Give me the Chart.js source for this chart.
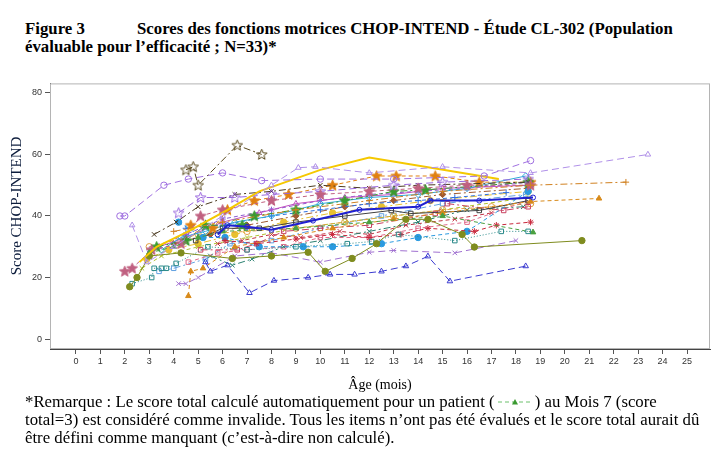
<!DOCTYPE html>
<html>
<head>
<meta charset="utf-8">
<script src="https://cdn.jsdelivr.net/npm/chart.js@4.4.1/dist/chart.umd.min.js"></script>
<style>
  html, body { margin: 0; padding: 0; background: #fff; }
  #page { position: relative; width: 720px; height: 451px; overflow: hidden;
          font-family: "Liberation Serif", "Times New Roman", serif; color: #000; }
  #title { position: absolute; left: 25px; top: 20px; font-weight: bold; font-size: 16.8px; line-height: 18px; white-space: nowrap; }
  #title .fig { display: inline-block; width: 112px; }
  #box { position: absolute; left: 0; top: 75px; width: 720px; height: 320px; }
  #note { position: absolute; left: 25px; top: 393px; font-size: 16.8px; line-height: 18px; white-space: nowrap; }
  #note svg { vertical-align: 0px; }
</style>
</head>
<body>
<div id="page">
  <div id="title"><span class="fig">Figure 3</span>Scores des fonctions motrices CHOP-INTEND - Étude CL-302 (Population<br>évaluable pour l’efficacité ; N=33)*</div>
  <div id="box"><canvas id="chartChop"></canvas></div>
  <div id="note">*Remarque : Le score total calculé automatiquement pour un patient (<svg width="40" height="10"><line x1="3" y1="5" x2="37" y2="5" stroke="#6cc06c" stroke-width="1" stroke-dasharray="4,3"/><polygon points="20,2 23,7.5 17,7.5" fill="#3a9a30"/></svg>) au Mois 7 (score<br>total=3) est considéré comme invalide. Tous les items n’ont pas été évalués et le score total aurait dû<br>être défini comme manquant (c’est-à-dire non calculé).</div>
</div>
<script>
// tick labels
const xTicks = [0,1,2,3,4,5,6,7,8,9,10,11,12,13,14,15,16,17,18,19,20,21,22,23,24,25];
const yTicks = [0,20,40,60,80];

// one list of [age (mois), score] per patient
const p01 = [[4.5,55],[4.8,56],[5.0,50],[6.6,63],[7.6,60]];
const p02 = [[1.8,40],[2.0,40],[3.6,50],[4.6,52],[6.0,54],[7.6,51.5],[10,52],[13,52],[16.7,53],[18.6,58]];
const p03 = [[2.3,37],[2.9,25],[4,30],[6,40],[8,50],[9.1,55.7],[9.8,56],[12,54],[15,56],[18.6,54],[23.4,60]];
const p04 = [[2.6,25],[3.3,30],[4.6,35],[6.2,42],[7.5,48],[10,55],[12,59],[17.3,52]];
const p05 = [[5.8,34],[6.2,37],[7,36.5],[8,35.5],[9.7,38.5],[11.6,42],[14,43],[14.5,45],[16.5,45],[18.7,46]];
const p06 = [[5.3,25],[5.5,22],[6.2,24],[7.1,15],[8.1,19],[9.5,20],[10.4,21],[11.4,21],[12.5,22],[13.5,23.7],[14.4,26.9],[15.3,18.8],[18.4,23.7]];
const p07 = [[2.2,17],[2.5,20],[3,27],[4.3,28],[6.4,26.2],[8,27],[9.5,28.2],[10.2,22],[11.3,26.2],[12.3,31],[13.5,38.9],[14.4,38.9],[15.8,34],[16.3,29.9],[20.7,32]];
const p08 = [[2.3,18],[3.1,20],[3.2,23],[3.5,23],[3.7,23],[4.1,24.6],[5.4,30],[7,29],[9,30],[11.1,31],[12.1,31.7],[13.2,34],[15.5,32],[17.4,35],[18.5,35]];
const p09 = [[3,28],[4,30],[5,33],[6,35],[9,36],[12,38],[15,40],[18.7,34.7]];
const p10 = [[4.6,14],[4.7,22],[5.2,23],[6.5,30],[8.5,33],[10.5,36],[13,39],[15,41],[18.6,44.7],[21.4,45.7]];
const p11 = [[4,35],[6,38],[9,42],[12,45],[15,48],[18.6,50],[22.5,51]];
const p12 = [[6.1,32],[7.4,31],[9,32.5],[10.5,34],[12,33],[13.3,34],[14.4,36],[16.3,35],[17.2,37],[18.6,38]];
const p13 = [[2.0,22],[2.3,23],[3.1,29],[4.3,31],[5.1,40],[6,42],[8,45],[10,47],[12,48],[14,49],[16,50],[18.6,50]];
const p14 = [[4.2,41],[5.1,46],[6.5,46],[8,47],[10,48],[13,50],[15,51],[18.5,52]];
const p15 = [[3.2,34],[4.1,38],[5,43],[6.5,47],[8,48],[10,50],[12,49],[14,50],[18.5,51]];
const p16 = [[4.2,38],[5.2,33],[6.1,33],[7.5,30],[9.3,30],[10.5,30],[12.5,31],[14,33],[16,35],[18.5,48]];
const p17 = [[3.3,30],[4.5,32],[5.3,37],[6.8,37],[7.3,40],[9,42],[11,45],[13,48],[14.3,48.5],[18.5,51]];
const p18 = [[4.7,37],[5.6,36],[6.2,42],[7.3,45],[8.7,47],[10.5,50],[12.3,53],[13.1,53],[14.7,53],[16.5,51],[18.6,51]];
const p19 = [[4.9,32],[6,36],[7.5,36],[9,38],[11,40],[12.9,41.8],[13.7,40.8],[16.5,41.8],[18.5,45]];
const p20 = [[5.1,29],[6.6,29],[7.4,31],[8.5,35],[10,36],[12,37],[14.7,40.8],[15.2,44],[17.5,41.8],[18.5,43]];
const p21 = [[4.6,25],[5.8,28],[7,29],[8.5,30],[10,33],[12,33],[14,36],[16,38],[18.5,45]];
const p22 = [[4.2,18],[4.5,18],[5,20],[6.5,27],[8,28],[10,25],[12,28.2],[13,28.8],[15.5,28],[18,32]];
const p23 = [[5.5,27],[6.4,24],[7.2,26],[8.5,30],[10,32],[12,35],[14,38],[16,42],[18.3,43]];
const p24 = [[3.5,29],[4.3,33],[5.3,35],[6.5,38],[8,40],[10,44],[12,46],[14,47],[16,49],[18.4,53]];
const p25 = [[4.5,36],[6,37],[8,40],[10,42],[12,44],[14,45],[15.5,46],[17.6,47.6]];
const p26 = [[3,30],[5,34],[7,35],[9,36],[11,38],[13,40],[15,42],[17,43],[18.6,44]];
const p27 = [[3.4,30],[4.5,33],[6,38],[7.5,41],[9,44],[11,46],[13,47],[15,49],[18.6,50]];
const p28 = [[3,29],[4.5,34],[6,39],[8,42],[10,45],[12,47],[14,48],[16,49],[18.6,51]];
const p29 = [[2.7,23],[3.5,27],[5,30],[7,33],[9,36],[11,38],[13,40],[15,42],[18.5,46]];
const p30 = [[4,31],[5.5,34],[7,37],[9,40],[11,43],[13,45],[15,47],[18.5,49]];
const p31 = [[5.8,31],[6.8,32],[8,34],[9.2,33],[10.8,35],[12,34],[13.5,37],[15.5,39],[17,41]];
const p32 = [[3.4,22],[4,23],[5.3,26],[6.3,31],[8,32],[10,36],[12.5,40],[15,44],[18.4,47]];
const p33 = [[2.9,26],[3.8,29],[5,31],[6.5,34],[8.5,38],[10.5,41],[12.5,43],[14.5,45],[18.5,48]];

const patients = [p01,p02,p03,p04,p05,p06,p07,p08,p09,p10,p11,p12,p13,p14,p15,p16,p17,
                  p18,p19,p20,p21,p22,p23,p24,p25,p26,p27,p28,p29,p30,p31,p32,p33];

// line / marker styles
const LD = [7,4], DA = [4,3], DD = [7,3,2,3], DOT = [1,2], SOL = [];
const looks = [
  { c: '#5a4a1e', m: 'star5', f: false, d: DD },
  { c: '#a070e0', m: 'circle', f: false, d: LD },
  { c: '#b090e8', m: 'triangle', f: false, d: LD },
  { c: '#f5c800', m: 'none', f: true, d: SOL, w: 2 },
  { c: '#2020d0', m: 'circle', f: false, d: SOL, w: 2, r: 2.5 },
  { c: '#3a3ad0', m: 'triangle', f: false, d: LD },
  { c: '#7f8c1f', m: 'circle', f: true, d: SOL },
  { c: '#2a8a8a', m: 'rect', f: false, d: DOT },
  { c: '#4aa040', m: 'triangle', f: true, d: DA },
  { c: '#d88a1a', m: 'triangle', f: true, d: DA },
  { c: '#d08020', m: 'cross', f: false, d: DD },
  { c: '#c8283c', m: 'star', f: false, d: DA },
  { c: '#c06080', m: 'star5', f: true, d: DA },
  { c: '#9966dd', m: 'star5', f: false, d: LD },
  { c: '#4a3a20', m: 'crossRot', f: false, d: DD },
  { c: '#2a9ae0', m: 'circle', f: true, d: DA },
  { c: '#3a9a30', m: 'star5', f: true, d: DD },
  { c: '#e08010', m: 'star5', f: true, d: DA },
  { c: '#404040', m: 'rect', f: false, d: SOL },
  { c: '#c84060', m: 'rect', f: false, d: DD },
  { c: '#e06a8a', m: 'rect', f: false, d: DA },
  { c: '#a070d0', m: 'crossRot', f: false, d: LD },
  { c: '#2a8070', m: 'crossRot', f: false, d: DD },
  { c: '#30a8d8', m: 'rectRot', f: false, d: SOL },
  { c: '#3070e0', m: 'cross', f: false, d: DA },
  { c: '#e0a040', m: 'circle', f: false, d: DA },
  { c: '#c050c0', m: 'triangle', f: false, d: SOL },
  { c: '#8a5ad0', m: 'star', f: false, d: DA },
  { c: '#b0c030', m: 'crossRot', f: false, d: DA },
  { c: '#a05a30', m: 'rectRot', f: true, d: DD },
  { c: '#c03040', m: 'crossRot', f: false, d: DA },
  { c: '#60a0e0', m: 'rect', f: false, d: DD },
  { c: '#e8c030', m: 'circle', f: true, d: DD }
];

// five-point star marker (Chart.js 'star' is an asterisk)
function star5(color, filled) {
  const cv = document.createElement('canvas');
  cv.width = 13; cv.height = 13;
  const g = cv.getContext('2d');
  g.beginPath();
  for (let i = 0; i < 10; i++) {
    const r = i % 2 ? 2.4 : 5.6;
    const a = -Math.PI / 2 + i * Math.PI / 5;
    const px = 6.5 + r * Math.cos(a), py = 6.8 + r * Math.sin(a);
    i ? g.lineTo(px, py) : g.moveTo(px, py);
  }
  g.closePath();
  if (filled) { g.fillStyle = color; g.fill(); }
  g.strokeStyle = color; g.lineWidth = 1; g.stroke();
  return cv;
}

const datasets = patients.map((pts, i) => {
  const s = looks[i];
  const style = s.m === 'star5' ? star5(s.c, s.f) : (s.m === 'none' ? 'circle' : s.m);
  return {
    label: 'Patient ' + (i + 1),
    data: pts.map(p => ({ x: p[0], y: p[1] })),
    borderColor: s.c,
    borderWidth: s.w || 1,
    borderDash: s.d,
    pointStyle: style,
    pointRadius: s.m === 'none' ? 0 : (s.r || 3.2),
    pointBorderColor: s.c,
    pointBackgroundColor: s.f ? s.c : 'rgba(255,255,255,0)',
    pointBorderWidth: 1,
    tension: 0,
    fill: false
  };
});

const serif = '"Liberation Serif", "Times New Roman", serif';

// light frame round the plot, and the y title placed like the original
const frame = {
  id: 'frame',
  beforeDatasetsDraw(chart) {
    const a = chart.chartArea, g = chart.ctx;
    g.save();
    g.strokeStyle = '#b4b4b4';
    g.lineWidth = 1;
    g.strokeRect(a.left + 0.5, a.top + 0.5, a.right - a.left - 1, a.bottom - a.top - 1);
    g.restore();
  },
  afterDraw(chart) {
    const g = chart.ctx;
    g.save();
    g.translate(17, 131);
    g.rotate(-Math.PI / 2);
    g.font = '15px ' + serif;
    g.fillStyle = '#0c1c3c';
    g.textAlign = 'center';
    g.textBaseline = 'middle';
    g.fillText('Score CHOP-INTEND', 0, 0);
    g.restore();
  }
};

const tickFont = { family: '"Liberation Sans", Arial, sans-serif', size: 9 };

new Chart(document.getElementById('chartChop'), {
  type: 'line',
  data: { datasets },
  plugins: [frame],
  options: {
    responsive: true,
    maintainAspectRatio: false,
    animation: false,
    layout: { padding: { top: 8, right: 10, left: 0, bottom: 0 } },
    plugins: { legend: { display: false }, tooltip: { enabled: false } },
    scales: {
      x: {
        type: 'linear',
        min: -1.06, max: 25.94,
        afterBuildTicks: sc => { sc.ticks = xTicks.map(v => ({ value: v })); },
        afterFit: sc => { sc.height = 46; },
        grid: { drawOnChartArea: false, drawTicks: true, tickLength: 5, color: '#555' },
        border: { color: '#444' },
        ticks: { font: tickFont, color: '#333', padding: 2, maxRotation: 0, autoSkip: false },
        title: { display: true, text: 'Âge (mois)', color: '#000', padding: { top: 0, bottom: 1 },
                 font: { family: serif, size: 14 } }
      },
      y: {
        type: 'linear',
        min: -3.24, max: 83.1,
        afterBuildTicks: sc => { sc.ticks = yTicks.map(v => ({ value: v })); },
        afterFit: sc => { sc.width = 50; },
        grid: { drawOnChartArea: false, drawTicks: true, tickLength: 5, color: '#555' },
        border: { color: '#444' },
        ticks: { font: tickFont, color: '#333', padding: 3 }
      }
    }
  }
});
</script>
</body>
</html>
